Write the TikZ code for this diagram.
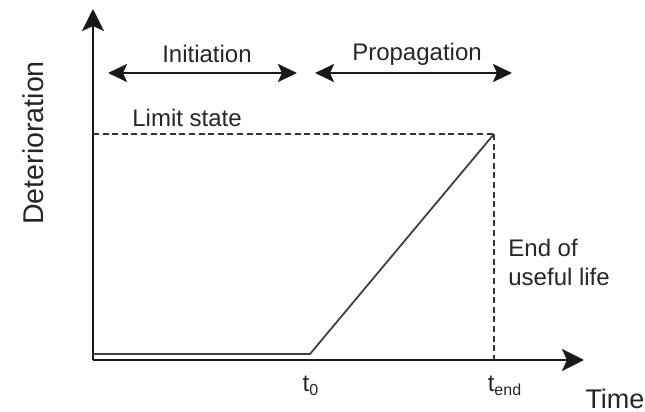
\documentclass[tikz,border=0pt]{standalone}
\usepackage{fontspec}
\setmainfont{Liberation Sans}
\usetikzlibrary{arrows.meta}

\tikzset{
  lbl/.style={text=black!85,inner sep=0pt,font=\fontsize{12}{14.5}\selectfont},
  biglbl/.style={lbl,font=\fontsize{14.3}{17}\selectfont},
  axis/.style={line width=1.3pt,black!90,-{Stealth[length=11pt,width=11pt,inset=2.5pt]}},
  span/.style={line width=1.3pt,black!90,{Stealth[length=9.5pt,width=9pt,inset=2pt]}-{Stealth[length=9.5pt,width=9pt,inset=2pt]}},
  guide/.style={line width=0.6pt,black!80,dash pattern=on 3pt off 1.8pt}
}

\begin{document}
\begin{tikzpicture}[x=0.5pt,y=-0.5pt]
    \useasboundingbox (0,0) rectangle (645,412);
    % axes
    \coordinate (O) at (93,360);
    \coordinate (ytop) at (93,9);
    \coordinate (xend) at (584,360);
    \draw[axis] (O) -- (ytop);
    \draw[axis] (O) -- (xend);
    \node[biglbl,rotate=90] (ylab) at (33,143) {Deterioration};
    \node[biglbl,font=\fontsize{13.5}{16}\selectfont] (time) at (615,399) {Time};
    % phases
    \coordinate (a1) at (108,73);
    \coordinate (a2) at (297,73);
    \coordinate (b1) at (315,73);
    \coordinate (b2) at (512,73);
    \draw[span] (a1) -- (a2);
    \draw[span] (b1) -- (b2);
    \node[lbl] (ini) at (207,54) {Initiation};
    \node[lbl] (prop) at (417,54) {Propagation};
    % limit state and end of life
    \coordinate (l0) at (93,134);
    \coordinate (top) at (494,134);
    \coordinate (tendax) at (494,360);
    \draw[guide] (l0) -- (top);
    \draw[guide] (top) -- (tendax);
    \node[lbl,anchor=west] (limit) at (132,118) {Limit state};
    \node[lbl,anchor=west,align=left] (eol) at (508,262) {End of\\useful life};
    % deterioration curve
    \coordinate (c0) at (93,354);
    \coordinate (c1) at (310,354);
    \draw[line width=0.9pt,black!75] (c0) -- (c1) -- (top);
    \node[lbl] (tzero) at (311,386) {t\textsubscript{0}};
    \node[lbl] (tend) at (505,386) {t\textsubscript{end}};
\end{tikzpicture}
\end{document}
